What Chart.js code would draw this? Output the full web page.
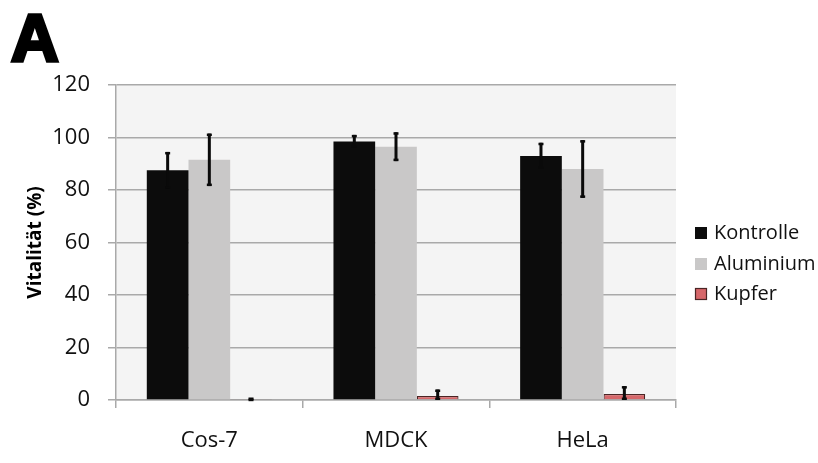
<!DOCTYPE html>
<html>
<head>
<meta charset="utf-8">
<script src="https://cdn.jsdelivr.net/npm/chart.js@4.4.1/dist/chart.umd.min.js"></script>
<style>
  html, body { margin: 0; padding: 0; background: #ffffff; }
  #wrap { position: relative; width: 818px; height: 463px; }
</style>
</head>
<body>
<div id="wrap"><canvas id="c"></canvas></div>
<script>
// Cell lines and viability (%) per treatment, with standard deviations
const categories = ['Cos-7', 'MDCK', 'HeLa'];
const seriesNames = ['Kontrolle', 'Aluminium', 'Kupfer'];
const kontrolle = [87.5, 98.5, 93];
const aluminium = [91.5, 96.5, 88];
const kupfer = [0.2, 1.5, 2.3];
const kontrolleErr = [7, 2.5, 5];
const aluminiumErr = [10, 5.5, 11];
const kupferErr = [0.3, 2.5, 3];
const yTicks = [0, 20, 40, 60, 80, 100, 120];
const panelLetter = 'A';

const FONT = "'Open Sans', 'DejaVu Sans', sans-serif";
const GRID = '#a9a9a9';

const colors = ['#0c0c0c', '#c9c8c8', '#d6676a'];
const borders = ['#0c0c0c', '#c9c8c8', '#4a2525'];
const values = [kontrolle, aluminium, kupfer];
const errors = [kontrolleErr, aluminiumErr, kupferErr];

// Light grey plot background
const plotBg = {
  id: 'plotBg',
  beforeDraw(chart) {
    const { ctx, chartArea: a } = chart;
    ctx.save();
    ctx.fillStyle = '#f4f4f4';
    ctx.fillRect(a.left, a.top, a.right - a.left, a.bottom - a.top);
    ctx.restore();
  }
};

// Vertical error bars with short caps
const errorBars = {
  id: 'errorBars',
  afterDatasetsDraw(chart) {
    const { ctx } = chart;
    const y = chart.scales.y;
    ctx.save();
    ctx.fillStyle = '#0a0a0a';
    chart.data.datasets.forEach((ds, di) => {
      const meta = chart.getDatasetMeta(di);
      meta.data.forEach((bar, i) => {
        const v = ds.data[i];
        const e = ds.errors[i];
        const top = y.getPixelForValue(v + e);
        const bot = y.getPixelForValue(Math.max(v - e, 0));
        const x = bar.x;
        ctx.fillRect(x - 1.5, top, 3, bot - top);
        ctx.fillRect(x - 2.5, top, 5, 2.5);
        ctx.fillRect(x - 2.5, bot - 2.5, 5, 2.5);
      });
    });
    ctx.restore();
  }
};

// Panel letter and legend at the right
const decorations = {
  id: 'decorations',
  afterDraw(chart) {
    const { ctx } = chart;
    ctx.save();
    ctx.fillStyle = '#000000';
    ctx.strokeStyle = '#000000';
    ctx.lineWidth = 3.5;
    ctx.lineJoin = 'miter';
    ctx.font = "bold 66px 'Liberation Sans', Arial, sans-serif";
    ctx.textBaseline = 'alphabetic';
    ctx.textAlign = 'left';
    ctx.fillText(panelLetter, 11, 61);
    ctx.strokeText(panelLetter, 11, 61);

    const rows = [233, 264, 294];
    ctx.font = "20px " + FONT;
    ctx.textBaseline = 'middle';
    chart.data.datasets.forEach((ds, i) => {
      const cy = rows[i];
      ctx.fillStyle = ds.backgroundColor;
      ctx.fillRect(695, cy - 6, 12, 12);
      if (i === 2) {
        ctx.strokeStyle = ds.borderColor;
        ctx.lineWidth = 1.2;
        ctx.strokeRect(695.5, cy - 5.5, 11, 11);
      }
      ctx.fillStyle = '#111111';
      ctx.fillText(ds.label, 714, cy);
    });
    ctx.restore();
  }
};

const datasets = seriesNames.map((name, i) => ({
  label: name,
  data: values[i],
  errors: errors[i],
  backgroundColor: colors[i],
  borderColor: borders[i],
  borderWidth: i === 2 ? 1.2 : 0,
  barPercentage: 1.0,
  categoryPercentage: 0.67
}));

new Chart(document.getElementById('c'), {
  type: 'bar',
  data: { labels: categories, datasets },
  options: {
    responsive: true,
    maintainAspectRatio: false,
    animation: false,
    layout: { padding: { top: 85, right: 142, bottom: 0, left: 0 } },
    plugins: {
      legend: { display: false },
      tooltip: { enabled: false }
    },
    scales: {
      x: {
        offset: true,
        grid: { display: true, drawOnChartArea: false, drawTicks: true, tickLength: 8, color: GRID, lineWidth: 1.5 },
        border: { display: true, color: GRID, width: 1.5 },
        ticks: { color: '#111111', font: { family: FONT, size: 22 }, padding: 20 },
        afterFit(s) { s.height = 63; }
      },
      y: {
        min: 0,
        max: 120,
        afterBuildTicks(s) { s.ticks = yTicks.map(v => ({ value: v })); },
        grid: { color: GRID, lineWidth: 1.5, tickLength: 8 },
        border: { display: true, color: GRID, width: 1.5 },
        ticks: { color: '#111111', font: { family: FONT, size: 22 }, padding: 18 },
        title: {
          display: true,
          text: 'Vitalität (%)',
          color: '#000000',
          font: { family: FONT, size: 19, weight: 'bold' },
          padding: { top: 24, bottom: 0 }
        },
        afterFit(s) { s.width = 116; }
      }
    }
  },
  plugins: [plotBg, errorBars, decorations]
});
</script>
</body>
</html>
